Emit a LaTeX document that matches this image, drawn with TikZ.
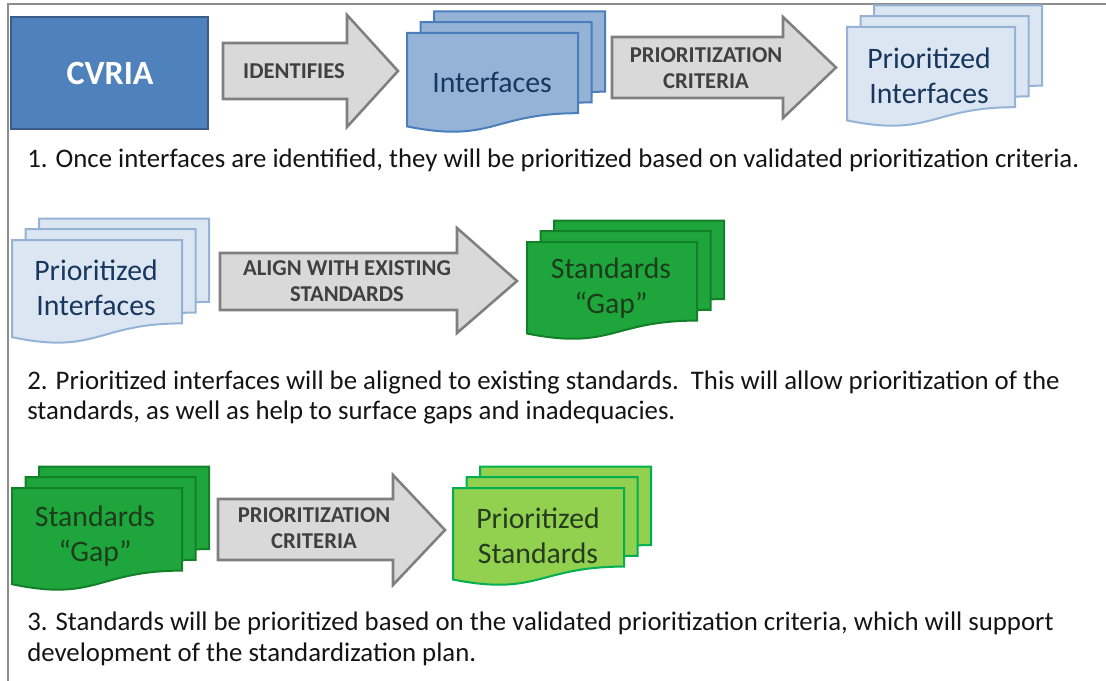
\documentclass[tikz,border=0pt]{standalone}
\usepackage{fontspec}
\setmainfont{Carlito}
\definecolor{cvfill}{RGB}{79,129,189}
\definecolor{cvdraw}{RGB}{56,93,138}
\definecolor{iffill}{RGB}{149,179,215}
\definecolor{ifdraw}{RGB}{74,126,187}
\definecolor{pifill}{RGB}{220,230,242}
\definecolor{pidraw}{RGB}{149,179,215}
\definecolor{navy}{RGB}{23,55,94}
\definecolor{gfill}{RGB}{30,166,60}
\definecolor{gdraw}{RGB}{18,128,40}
\definecolor{gtext}{RGB}{28,60,28}
\definecolor{lgfill}{RGB}{146,208,80}
\definecolor{lgdraw}{RGB}{0,176,80}
\definecolor{lgtext}{RGB}{38,60,30}
\definecolor{arfill}{RGB}{217,217,217}
\definecolor{ardraw}{RGB}{127,127,127}
\definecolor{artext}{RGB}{64,64,64}
\definecolor{framecol}{RGB}{140,140,140}
\definecolor{captext}{RGB}{20,20,20}
\tikzset{
  arrowstyle/.style={fill=arfill, draw=ardraw, line width=1.9pt, line join=miter},
  arrowtext/.style={font=\bfseries\fontsize{17}{19.5}\selectfont, text=artext, align=center, inner sep=0pt},
  doctext/.style={font=\fontsize{22.3}{26.5}\selectfont, align=center, inner sep=0pt},
  captiontext/.style={font=\fontsize{20.1}{24}\selectfont, text=captext, anchor=base west, inner sep=0pt},
  ifdoc/.style={fill=iffill, draw=ifdraw, line width=1.5pt},
  pidoc/.style={fill=pifill, draw=pidraw, line width=1.5pt},
  gdoc/.style={fill=gfill, draw=gdraw, line width=1.5pt},
  lgdoc/.style={fill=lgfill, draw=lgdraw, line width=1.5pt}
}
% document shape: style, x, y (top), w, h
\newcommand\docshape[5]{\draw[#1] (#2,#3) -- ({#2+#4},#3) -- ({#2+#4},{#3+0.802*#5})
  .. controls ({#2+0.5*#4},{#3+0.802*#5}) and ({#2+0.5*#4},{#3+1.107*#5}) .. (#2,{#3+0.934*#5}) -- cycle;}
% stack of three documents: style, x, y of front, w, h
\newcommand\multidoc[5]{%
  \docshape{#1}{#2+27}{#3-21.5}{#4}{#5}%
  \docshape{#1}{#2+13.5}{#3-10.8}{#4}{#5}%
  \docshape{#1}{#2}{#3}{#4}{#5}}
% block arrow: x0, body top, head base x, head top, tip x, tip y, head bottom, body bottom
\newcommand\blockarrow[8]{\draw[arrowstyle] (#1,#2) -- (#3,#2) -- (#3,#4) -- (#5,#6) -- (#3,#7) -- (#3,#8) -- (#1,#8) -- cycle;}
\begin{document}
\begin{tikzpicture}[x=0.75pt,y=-0.75pt]
\useasboundingbox (0,0) rectangle (1106,681);
% frame
\draw[framecol, line width=1.5pt] (8,681) -- (8,4) -- (1106,4);

% ---------- row 1 ----------
\draw[fill=cvfill, draw=cvdraw, line width=1.5pt] (11,17) rectangle (208,129);
\node[font=\bfseries\fontsize{25.5}{30}\selectfont, text=white] (cvria) at (110,73) {CVRIA};

\blockarrow{223}{43}{347}{15}{398}{71}{127}{99}
\node[arrowtext] (identifies) at (294,71) {IDENTIFIES};

\multidoc{ifdoc}{407}{33}{171}{100}
\node[doctext, text=navy] (interfaces) at (492,82) {Interfaces};

\blockarrow{612}{37}{783}{17}{836}{67.5}{118}{98}
\node[arrowtext] (crit1) at (706,68) {PRIORITIZATION\\CRITERIA};

\multidoc{pidoc}{847}{27}{168}{100}
\node[doctext, text=navy] (prioif1) at (929,76) {Prioritized\\Interfaces};

\node[captiontext] (cap1) at (27,167) {1. Once interfaces are identified, they will be prioritized based on validated prioritization criteria.};

% ---------- row 2 ----------
\multidoc{pidoc}{12}{240}{170}{104}
\node[doctext, text=navy] (prioif2) at (96,288) {Prioritized\\Interfaces};

\blockarrow{220}{253}{457}{228}{517}{281}{333}{310}
\node[arrowtext] (align) at (347,281) {ALIGN WITH EXISTING\\STANDARDS};

\multidoc{gdoc}{527}{242}{170}{98}
\node[doctext, text=gtext] (gap1) at (611,288) {Standards\\“Gap”};

\node[captiontext] (cap2a) at (27,389) {2. Prioritized interfaces will be aligned to existing standards.\ \ This will allow prioritization of the};
\node[captiontext] (cap2b) at (27,419) {standards, as well as help to surface gaps and inadequacies.};

% ---------- row 3 ----------
\multidoc{gdoc}{12}{488}{170}{103}
\node[doctext, text=gtext] (gap2) at (95,536) {Standards\\“Gap”};

\blockarrow{218}{499}{393}{475}{445}{530}{585}{560}
\node[arrowtext] (crit2) at (314,528) {PRIORITIZATION\\CRITERIA};

\multidoc{lgdoc}{453}{488}{171}{98}
\node[doctext, text=lgtext] (priostd) at (538,536) {Prioritized\\Standards};

\node[captiontext] (cap3a) at (27,630) {3. Standards will be prioritized based on the validated prioritization criteria, which will support};
\node[captiontext] (cap3b) at (27,661) {development of the standardization plan.};
\end{tikzpicture}
\end{document}
